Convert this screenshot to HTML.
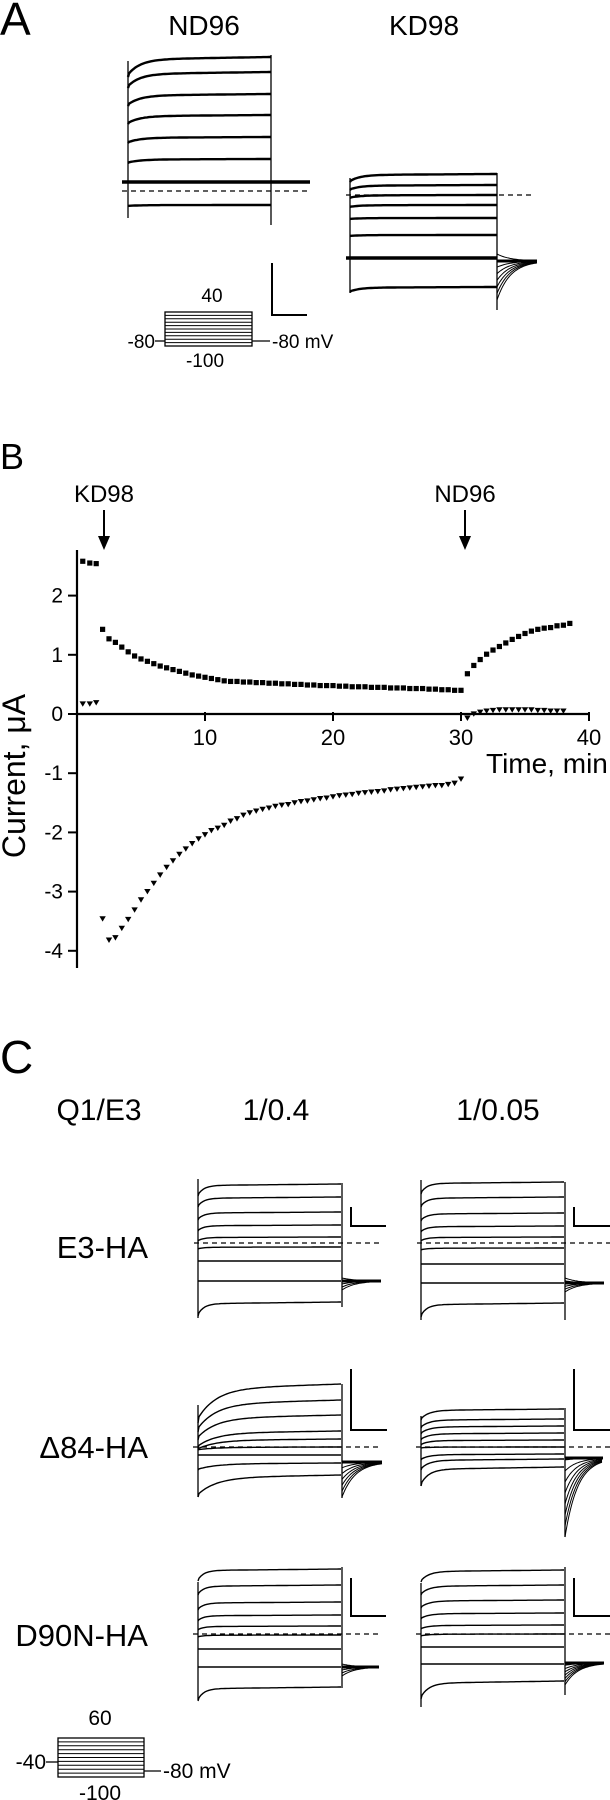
<!DOCTYPE html>
<html><head><meta charset="utf-8">
<style>
html,body{margin:0;padding:0;background:#fff;}
svg{display:block;font-family:"Liberation Sans",Arial,sans-serif;}
</style></head>
<body>
<svg id="fig" width="610" height="1800" viewBox="0 0 610 1800" xmlns="http://www.w3.org/2000/svg">
  <g id="panelA">
    <text x="0" y="35" font-size="46">A</text>
    <text x="204" y="35" font-size="28" text-anchor="middle">ND96</text>
    <text x="424" y="35" font-size="28" text-anchor="middle">KD98</text>
    <g stroke="#000" stroke-width="2" fill="none">
      <path d="M272 263 V315 H307"/>
    </g>
    <g>
      <rect x="165" y="312" width="87" height="34" fill="none" stroke="#000" stroke-width="1.3"/>
      <g id="protoA" stroke="#000" stroke-width="1"></g>
      <line x1="155" y1="341" x2="165" y2="341" stroke="#000" stroke-width="1.3"/>
      <line x1="252" y1="341" x2="270" y2="341" stroke="#000" stroke-width="1.3"/>
      <text x="155" y="348" font-size="19" text-anchor="end">-80</text>
      <text x="272" y="348" font-size="19">-80 mV</text>
      <text x="212" y="302" font-size="19" text-anchor="middle">40</text>
      <text x="205" y="367" font-size="19" text-anchor="middle">-100</text>
    </g>
    <g id="tracesA"></g>
  </g>

  <g id="panelB">
    <text x="0" y="469" font-size="36">B</text>
    <text x="104" y="502" font-size="24" text-anchor="middle">KD98</text>
    <text x="465" y="502" font-size="24" text-anchor="middle">ND96</text>
    <g><line x1="104" y1="510" x2="104" y2="538" stroke="#000" stroke-width="2"/><path d="M98 536 L110 536 L104 550 Z"/></g>
    <g><line x1="465" y1="510" x2="465" y2="538" stroke="#000" stroke-width="2"/><path d="M459 536 L471 536 L465 550 Z"/></g>
    <g id="axesB"></g>
    <g id="marksB"></g>
    <text x="486" y="773" font-size="28">Time, min</text>
    <text transform="translate(25,776) rotate(-90)" font-size="32" text-anchor="middle">Current, μA</text>
  </g>

  <g id="panelC">
    <text x="0" y="1073" font-size="46">C</text>
    <text x="99" y="1120" font-size="30" text-anchor="middle">Q1/E3</text>
    <text x="276" y="1120" font-size="30" text-anchor="middle">1/0.4</text>
    <text x="498" y="1120" font-size="30" text-anchor="middle">1/0.05</text>
    <text x="148" y="1258" font-size="31" text-anchor="end">E3-HA</text>
    <text x="148" y="1458" font-size="31" text-anchor="end">Δ84-HA</text>
    <text x="148" y="1646" font-size="31" text-anchor="end">D90N-HA</text>
    <g id="tracesC"></g>
    <g>
      <rect x="58" y="1738" width="86" height="39" fill="none" stroke="#000" stroke-width="1.3"/>
      <g id="protoC" stroke="#000" stroke-width="1"></g>
      <line x1="46" y1="1762" x2="58" y2="1762" stroke="#000" stroke-width="1.3"/>
      <line x1="144" y1="1771" x2="161" y2="1771" stroke="#000" stroke-width="1.3"/>
      <text x="46" y="1769" font-size="21" text-anchor="end">-40</text>
      <text x="163" y="1778" font-size="21">-80 mV</text>
      <text x="100" y="1725" font-size="21" text-anchor="middle">60</text>
      <text x="100" y="1800" font-size="21" text-anchor="middle">-100</text>
    </g>
  </g>
</svg>
<script>
// ---------- Panel B data ----------
const sqTimesPre = [0.45, 1.0, 1.5];
const sqValuesPre = [2.58, 2.55, 2.54];
const sqValuesKD = [1.43,1.27,1.21,1.13,1.05,0.98,0.93,0.89,0.85,0.81,
  0.78,0.75,0.72,0.69,0.66,0.64,0.62,0.60,0.58,0.56,
  0.55,0.55,0.54,0.54,0.53,0.53,0.52,0.52,0.51,0.51,
  0.50,0.50,0.49,0.49,0.48,0.48,0.48,0.47,0.47,0.46,
  0.46,0.46,0.45,0.45,0.45,0.44,0.44,0.44,0.43,0.43,
  0.43,0.42,0.42,0.41,0.41,0.40,0.40];
const sqValuesND = [0.68,0.82,0.92,1.01,1.08,1.14,1.20,1.26,1.31,1.36,1.40,1.43,1.45,1.46,1.49,1.50,1.53];
const triValuesPre = [0.17, 0.17, 0.19];
const triValuesKD = [-3.46,-3.82,-3.78,-3.62,-3.47,-3.31,-3.14,-3.00,-2.86,-2.72,
  -2.59,-2.48,-2.37,-2.28,-2.19,-2.11,-2.04,-1.97,-1.93,-1.88,
  -1.81,-1.77,-1.71,-1.67,-1.64,-1.61,-1.59,-1.56,-1.54,-1.53,
  -1.50,-1.48,-1.47,-1.45,-1.43,-1.42,-1.40,-1.38,-1.37,-1.36,
  -1.34,-1.33,-1.32,-1.31,-1.30,-1.28,-1.27,-1.26,-1.25,-1.24,
  -1.23,-1.22,-1.21,-1.21,-1.19,-1.17,-1.10];
const triValuesND = [-0.07,0.00,0.03,0.05,0.06,0.07,0.07,0.07,0.07,0.07,0.07,0.06,0.06,0.05,0.05,0.05];
const xTicks = [10, 20, 30, 40];
const yTicks = [2, 1, 0, -1, -2, -3, -4];

const NS = "http://www.w3.org/2000/svg";
function mk(tag, attrs, parent){ const e=document.createElementNS(NS,tag); for(const k in attrs) e.setAttribute(k,attrs[k]); parent.appendChild(e); return e; }
const X = t => 77 + t*12.8;
const Y = v => 714 - v*59.2;

const axesB = document.getElementById('axesB');
let xa = mk('line',{x1:77,y1:Y(0),x2:X(40),y2:Y(0),stroke:'#000','stroke-width':2.2},axesB);


let ya = mk('line',{x1:77,y1:550,x2:77,y2:968,stroke:'#000','stroke-width':2.2},axesB);


xTicks.forEach(t=>{
  let tk = mk('line',{x1:X(t),y1:Y(0)-2,x2:X(t),y2:Y(0)+7,stroke:'#000','stroke-width':2},axesB);
  
  
  let lb = mk('text',{x:X(t),y:Y(0)+31,'font-size':22,'text-anchor':'middle'},axesB);
  lb.textContent = t;
  
  
});
yTicks.forEach(v=>{
  let tk = mk('line',{x1:68,y1:Y(v),x2:77,y2:Y(v),stroke:'#000','stroke-width':2},axesB);
  
  
  let lb = mk('text',{x:63,y:Y(v)+7,'font-size':21,'text-anchor':'end'},axesB);
  lb.textContent = v;
  
  
});
const marksB = document.getElementById('marksB');
function square(t,v){
  let r = mk('rect',{x:X(t)-2.6,y:Y(v)-2.6,width:5.2,height:5.2,fill:'#000'},marksB);
  
  
}
function tri(t,v){
  const x=X(t), y=Y(v);
  let p = mk('path',{d:`M${x-3.2} ${y-2.6} L${x+3.2} ${y-2.6} L${x} ${y+2.8} Z`,fill:'#000'},marksB);
  
  
}
sqTimesPre.forEach((t,i)=>square(t,sqValuesPre[i]));
sqValuesKD.forEach((v,i)=>square(2+i*0.5,v));
sqValuesND.forEach((v,i)=>square(30.5+i*0.5,v));
sqTimesPre.forEach((t,i)=>tri(t,triValuesPre[i]));
triValuesKD.forEach((v,i)=>tri(2+i*0.5,v));
triValuesND.forEach((v,i)=>tri(30.5+i*0.5,v));

// ---------- Trace drawing helpers ----------
function tracePath(x0,x1,yEnd,yStart,tau){
  let d = `M${x0} ${yStart}`;
  for(let x=x0+1; x<=x1; x+=2){
    const f = Math.exp(-(x-x0)/tau);
    const slow = (1-(x-x0)/(x1-x0))*(yStart-yEnd)*0.12;
    const y = yEnd + (yStart-yEnd)*0.88*f + slow*(1-f);
    d += ` L${x} ${y.toFixed(1)}`;
  }
  return d;
}
function drawTraces(g, cfg){
  const {xl,xr,ends,starts,sw,tau,lvTop,lvBot,rvTop,rvBot,name} = cfg;
  mk('line',{x1:xl,y1:lvTop,x2:xl,y2:lvBot,stroke:'#000','stroke-width':1.3},g);
  mk('line',{x1:xr,y1:rvTop,x2:xr,y2:rvBot,stroke:'#000','stroke-width':1.3},g);
  ends.forEach((ye,i)=>{
    let p = mk('path',{d:tracePath(xl,xr,ye,starts[i],tau),fill:'none',stroke:'#000','stroke-width':sw,'stroke-linejoin':'round'},g);
    
    
  });
}
function dashed(g,x1,x2,y){
  let l = mk('line',{x1:x1,y1:y,x2:x2,y2:y,stroke:'#000','stroke-width':1.2,'stroke-dasharray':'5 4'},g);
  
  
}
function tail(g,x0,x1,yFrom,yTo,yEndPt,n){
  for(let k=0;k<n;k++){
    const ys = yFrom + (yTo-yFrom)*k/(n-1||1);
    let d=`M${x0} ${ys}`;
    for(let x=x0+1;x<=x1;x+=1.5){ const f=Math.exp(-(x-x0)/((x1-x0)/3)); d+=` L${x} ${(yEndPt+(ys-yEndPt)*f).toFixed(1)}`; }
    mk('path',{d:d,fill:'none',stroke:'#000','stroke-width':1},g);
  }
  mk('line',{x1:x0,y1:yEndPt,x2:x1,y2:yEndPt,stroke:'#000','stroke-width':3},g);
}
function scaleBar(g,x,yTop,yBot,x2){
  let p = mk('path',{d:`M${x} ${yTop} V${yBot} H${x2}`,fill:'none',stroke:'#000','stroke-width':2},g);
  
  
}
const protoA = document.getElementById('protoA');
for(let i=1;i<10;i++){ mk('line',{x1:165,x2:252,y1:312+i*3.4,y2:312+i*3.4},protoA); }
const protoC = document.getElementById('protoC');
for(let i=1;i<10;i++){ mk('line',{x1:58,x2:144,y1:1738+i*3.9,y2:1738+i*3.9},protoC); }

// ---------- Panel A traces ----------
const tA = document.getElementById('tracesA');
const ndEnds = [57,72,94,115,137,159,182,205];
const ndStarts = [77,88,106,124,143,163,182,206];
drawTraces(tA,{xl:128,xr:271,ends:ndEnds,starts:ndStarts,sw:2.4,tau:12,lvTop:61,lvBot:218,rvTop:55,rvBot:225,name:'nd96'});
mk('line',{x1:122,y1:182,x2:310,y2:182,stroke:'#000','stroke-width':3.5},tA);
dashed(tA,122,310,191);
const kdEnds = [174,185,195,205,218,235,258,287];
const kdStarts = [182,190,198,207,219,236,258,292];
drawTraces(tA,{xl:350,xr:497,ends:kdEnds,starts:kdStarts,sw:2.4,tau:10,lvTop:178,lvBot:293,rvTop:173,rvBot:310,name:'kd98'});
mk('line',{x1:346,y1:258,x2:497,y2:258,stroke:'#000','stroke-width':3.5},tA);
dashed(tA,346,535,195);
tail(tA,497,537,254,300,261,8);

// ---------- Panel C traces ----------
const tC = document.getElementById('tracesC');
const c1L = [1184,1197,1212,1225,1237,1247,1261,1281,1302];
const c1R = [1182,1197,1213,1226,1237,1248,1264,1283,1303];
const c2L = [1384,1400,1415,1431,1439,1447,1455,1463,1475];
const c2R = [1409,1419,1426,1433,1440,1447,1454,1459,1467];
const c3L = [1569,1585,1602,1615,1626,1635,1649,1667,1687];
const c3R = [1570,1585,1600,1613,1625,1634,1647,1664,1681];
function startsFrom(ends, amt, lowExtra){ return ends.map((e,i)=> e + (i===ends.length-1 ? lowExtra : Math.max(0,amt*(1-i/6)))); }
drawTraces(tC,{xl:198,xr:342,ends:c1L,starts:startsFrom(c1L,12,14),sw:1.4,tau:6,lvTop:1179,lvBot:1318,rvTop:1183,rvBot:1307,name:'e3-ha-1-0.4'});
dashed(tC,194,381,1243); tail(tC,342,381,1278,1290,1281,5);
scaleBar(tC,351,1207,1226,386);
drawTraces(tC,{xl:421,xr:565,ends:c1R,starts:startsFrom(c1R,12,14),sw:1.4,tau:6,lvTop:1180,lvBot:1320,rvTop:1182,rvBot:1320,name:'e3-ha-1-0.05'});
dashed(tC,417,610,1243); tail(tC,565,604,1278,1292,1283,6);
scaleBar(tC,574,1207,1226,610);

drawTraces(tC,{xl:198,xr:342,ends:c2L,starts:[1423,1432,1440,1448,1450,1450,1455,1470,1497],sw:1.4,tau:18,lvTop:1405,lvBot:1497,rvTop:1384,rvBot:1498,name:'d84-ha-1-0.4'});
dashed(tC,193,382,1447); tail(tC,342,382,1462,1497,1462,7);
scaleBar(tC,351,1369,1430,387);
drawTraces(tC,{xl:421,xr:565,ends:c2R,starts:[1420,1428,1434,1440,1445,1448,1460,1470,1486],sw:1.4,tau:8,lvTop:1416,lvBot:1486,rvTop:1408,rvBot:1537,name:'d84-ha-1-0.05'});
dashed(tC,416,610,1447); tail(tC,565,603,1460,1537,1458,8);
scaleBar(tC,574,1369,1430,610);

drawTraces(tC,{xl:198,xr:342,ends:c3L,starts:startsFrom(c3L,12,14),sw:1.4,tau:6,lvTop:1582,lvBot:1700,rvTop:1567,rvBot:1688,name:'d90n-ha-1-0.4'});
dashed(tC,193,381,1634); tail(tC,342,379,1664,1676,1667,5);
scaleBar(tC,351,1578,1616,386);
drawTraces(tC,{xl:421,xr:565,ends:c3R,starts:startsFrom(c3R,12,18),sw:1.4,tau:8,lvTop:1583,lvBot:1707,rvTop:1567,rvBot:1695,name:'d90n-ha-1-0.05'});
dashed(tC,416,610,1634); tail(tC,565,604,1662,1685,1663,8);
scaleBar(tC,574,1578,1616,610);
</script>
</body></html>
